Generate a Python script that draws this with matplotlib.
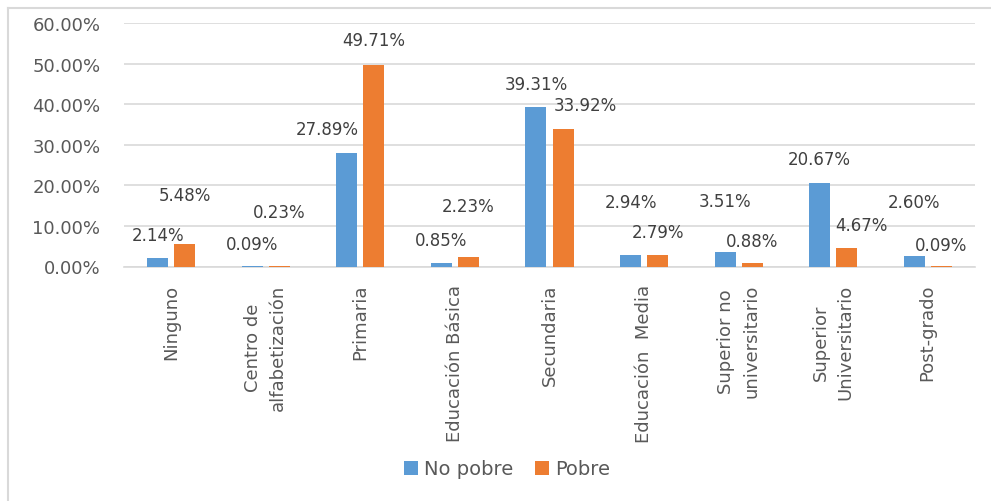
import numpy as np
import matplotlib.pyplot as plt
from matplotlib.lines import Line2D
from matplotlib.ticker import FuncFormatter

# datos
categorias = ['Ninguno', 'Centro de\nalfabetización', 'Primaria', 'Educación Básica',
              'Secundaria', 'Educación  Media', 'Superior no\nuniversitario',
              'Superior\nUniversitario', 'Post-grado']
no_pobre = [2.14, 0.09, 27.89, 0.85, 39.31, 2.94, 3.51, 20.67, 2.60]
pobre = [5.48, 0.23, 49.71, 2.23, 33.92, 2.79, 0.88, 4.67, 0.09]

# altura de las etiquetas (como las dejo Excel)
y_lab_np = [7.8, 5.6, 33.8, 6.5, 44.9, 16.0, 16.2, 26.4, 15.8]
y_lab_p = [17.5, 13.4, 55.8, 14.9, 39.7, 8.4, 6.4, 10.2, 5.3]
dx_lab_np = [0, 0, -0.21, 0, 0, 0, 0, 0, 0]
dx_lab_p = [0, 0, 0, 0, 0.24, 0, 0, 0.16, 0]

azul = '#5B9BD5'
naranja = '#ED7D31'
gris = '#595959'

plt.rcParams['font.family'] = 'DejaVu Sans'

W, H = 991, 502
fig = plt.figure(figsize=(W / 100, H / 100), dpi=100)

# borde del grafico
fig.add_artist(Line2D([7.5 / W, 7.5 / W], [0, 1 - 9 / H], color='#D9D9D9', lw=1.5))
fig.add_artist(Line2D([7.5 / W, 1], [1 - 9 / H, 1 - 9 / H], color='#D9D9D9', lw=1.5))

ax = fig.add_axes([124 / W, 1 - 267.5 / H, (975 - 124) / W, (267.5 - 24) / H])

x = np.arange(len(categorias))
ancho = 0.222
off = 0.143
ax.bar(x - off, no_pobre, ancho, color=azul, label='No pobre', zorder=3)
ax.bar(x + off, pobre, ancho, color=naranja, label='Pobre', zorder=3)

for i in range(len(x)):
    ax.text(x[i] - off + dx_lab_np[i], y_lab_np[i], '%.2f%%' % no_pobre[i],
            ha='center', va='center', fontsize=12, color='#404040', zorder=4)
    ax.text(x[i] + off + dx_lab_p[i], y_lab_p[i], '%.2f%%' % pobre[i],
            ha='center', va='center', fontsize=12, color='#404040', zorder=4)

ax.set_xlim(-0.5, len(x) - 0.5)
ax.set_ylim(0, 60)
ax.set_yticks(np.arange(0, 61, 10))
ax.yaxis.set_major_formatter(FuncFormatter(lambda v, p: '%.2f%%' % v))
ax.grid(axis='y', color='#D9D9D9', lw=1.2, zorder=0)
for s in ['top', 'right', 'left']:
    ax.spines[s].set_visible(False)
ax.spines['bottom'].set_color('#D9D9D9')
ax.spines['bottom'].set_linewidth(1.2)

ax.set_xticks(x)
ax.set_xticklabels(categorias, rotation=90, va='top', ha='center',
                   linespacing=1.5)
ax.tick_params(axis='x', length=0, pad=12.6, labelsize=13, labelcolor=gris)
ax.tick_params(axis='y', length=0, pad=17, labelsize=13, labelcolor=gris)

fig.legend(loc='center', bbox_to_anchor=(507 / W, 1 - 470 / H), ncol=2,
           frameon=False, fontsize=14, handlelength=0.72, handleheight=0.72,
           handletextpad=0.3, columnspacing=1.1, labelcolor=gris)

fig.savefig('out.png', dpi=100)
